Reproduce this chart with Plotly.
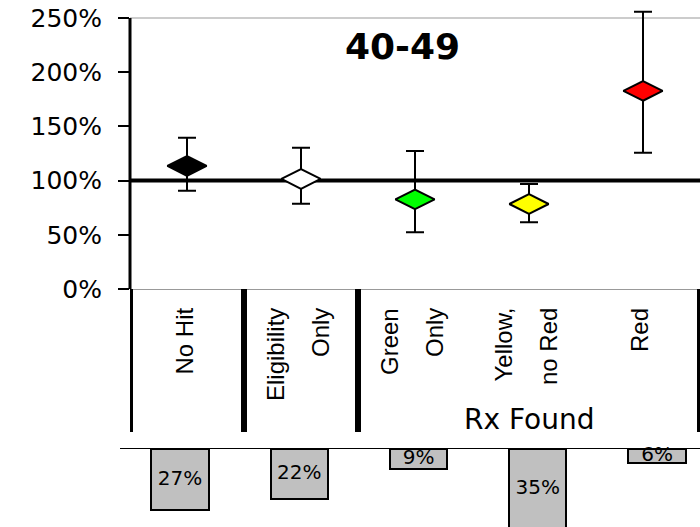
import plotly.graph_objects as go

# ---------------- data ----------------
categories = ["No Hit", "Eligibility<br>Only", "Green<br>Only", "Yellow,<br>no Red", "Red"]
ratio = [113.5, 101.5, 82.7, 78.4, 182.7]          # point estimate (%)
ratio_hi = [139.6, 130.4, 127.3, 96.9, 255.8]      # upper bound (%)
ratio_lo = [90.7, 78.7, 52.3, 61.5, 125.7]         # lower bound (%)
share = [27, 22, 9, 35, 6]                          # share of population (%)
share_labels = ["27%", "22%", "9%", "35%", "6%"]
marker_colors = ["#000000", "#FFFFFF", "#00FF00", "#FFFF00", "#FF0000"]
y_tick_vals = [0, 50, 100, 150, 200, 250]
y_tick_text = ["0%", "50%", "100%", "150%", "200%", "250%"]
y_max = 250
reference_value = 100
title_text = "40-49"
group_label = "Rx Found"
group_members = [2, 3, 4]
group_bounds = [-0.5, 0.5, 1.5, 4.5]

# ---------------- layout helpers ----------------
W, H = 700, 527
def py(pix):
    return (H - pix) / H

Y_BOTTOM_PX, Y_TOP_PX, EXT_TOP_PX = 289, 18, 4
y_ext = y_max * (Y_BOTTOM_PX - EXT_TOP_PX) / (Y_BOTTOM_PX - Y_TOP_PX)

err_plus = [h - v for h, v in zip(ratio_hi, ratio)]
err_minus = [v - l for v, l in zip(ratio, ratio_lo)]

fig = go.Figure()

fig.add_trace(go.Scatter(
    x=categories, y=ratio, mode="markers",
    marker=dict(symbol="diamond-wide", size=28, color=marker_colors,
                line=dict(color="black", width=2)),
    error_y=dict(type="data", symmetric=False, array=err_plus, arrayminus=err_minus,
                 color="black", thickness=2, width=9),
    cliponaxis=False, showlegend=False, xaxis="x", yaxis="y",
))

fig.add_trace(go.Bar(
    x=categories, y=share, width=0.48,
    marker=dict(color="#C0C0C0", line=dict(color="black", width=2)),
    showlegend=False, xaxis="x2", yaxis="y2",
))

fig.add_trace(go.Scatter(
    x=categories, y=[v / 2 for v in share], mode="text", text=share_labels,
    textposition="middle center",
    textfont=dict(family="DejaVu Sans", size=20, color="black"),
    cliponaxis=False, showlegend=False, xaxis="x2", yaxis="y2",
))

shapes = [
    # reference line at 100%
    dict(type="line", xref="x domain", x0=0, x1=1, yref="y",
         y0=reference_value, y1=reference_value,
         line=dict(color="black", width=4), layer="below"),
    # value axis line (0..250%)
    dict(type="line", xref="x domain", x0=0, x1=0, yref="y", y0=0, y1=y_max,
         line=dict(color="black", width=3)),
    # top border at 250%
    dict(type="line", xref="x domain", x0=0, x1=1, yref="y", y0=y_max, y1=y_max,
         line=dict(color="#999999", width=1), layer="below"),
]
for b in group_bounds:
    shapes.append(dict(type="line", xref="x", x0=b, x1=b, yref="paper",
                       y0=py(289), y1=py(432), line=dict(color="black", width=6)))

annotations = [
    dict(text="<b>" + title_text + "</b>", xref="paper", yref="paper",
         x=402.5 / W, y=py(46.5), xanchor="center", yanchor="middle", showarrow=False,
         font=dict(family="DejaVu Sans", size=36, color="black")),
    dict(text=group_label, xref="x", yref="paper",
         x=sum(group_members) / len(group_members), y=py(419),
         xanchor="center", yanchor="middle", showarrow=False,
         font=dict(family="DejaVu Sans", size=28, color="black")),
]
for i, cat in enumerate(categories):
    lines = cat.split("<br>")
    n = len(lines)
    for j, line in enumerate(lines):
        annotations.append(dict(
            text=line, xref="x", yref="paper", x=i, y=py(306),
            xshift=-3 + (j - (n - 1) / 2) * 45,
            xanchor="center", yanchor="top", textangle=-90, showarrow=False,
            font=dict(family="Liberation Sans", size=24, color="black")))

fig.update_layout(
    template="none",
    width=W, height=H,
    margin=dict(l=0, r=0, t=0, b=0, pad=0),
    paper_bgcolor="white", plot_bgcolor="rgba(0,0,0,0)",
    showlegend=False,
    bargap=0,
    xaxis=dict(domain=[130 / W, 1], type="category", range=[-0.5, 4.5],
               showline=True, linecolor="#999999", linewidth=1,
               showticklabels=False, ticks="", showgrid=False, zeroline=False,
               anchor="y", automargin=False),
    yaxis=dict(domain=[py(Y_BOTTOM_PX), py(EXT_TOP_PX)], range=[0, y_ext],
               tickvals=y_tick_vals, ticktext=y_tick_text,
               ticks="outside", ticklen=11, tickwidth=1.5, tickcolor="black",
               showline=False, showgrid=False, zeroline=False, ticklabelstandoff=11,
               tickfont=dict(family="DejaVu Sans", size=25, color="black"),
               anchor="x", automargin=False),
    xaxis2=dict(domain=[120 / W, 1], type="category", range=[-0.503, 4.36],
                anchor="y2", side="top", showline=True, linecolor="black", linewidth=1,
                showticklabels=False, ticks="", showgrid=False, zeroline=False,
                automargin=False),
    yaxis2=dict(domain=[0, py(449)], range=[34.5, 0], anchor="x2",
                showline=False, showticklabels=False, ticks="", showgrid=False,
                zeroline=False, automargin=False),
    shapes=shapes,
    annotations=annotations,
)

fig.write_html("out.html")
